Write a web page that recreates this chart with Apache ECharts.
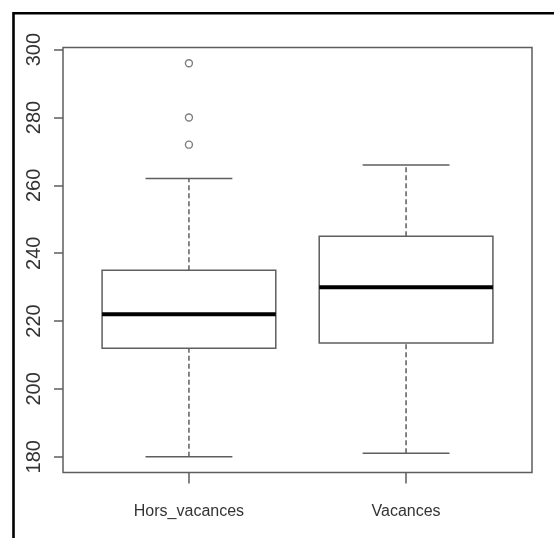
<!DOCTYPE html>
<html>
<head>
<meta charset="utf-8">
<script src="https://cdn.jsdelivr.net/npm/echarts@6/dist/echarts.min.js"></script>
<style>
html,body{margin:0;padding:0;background:#fff;}
#chart{width:554px;height:538px;}
</style>
</head>
<body>
<div id="chart"></div>
<script>
// ---- data ----
const categories = ['Hors_vacances', 'Vacances'];
const positions = [1, 2];
const whiskerLow = [180, 181];
const q1 = [212, 213.5];
const medians = [222, 230];
const q3 = [235, 245];
const whiskerHigh = [262, 266];
const outliers = [[296, 280, 272], []];
const yTicks = [180, 200, 220, 240, 260, 280, 300];

// R-style axis ranges (4% extension of data range)
const allVals = whiskerLow.concat(whiskerHigh, outliers.flat());
const dMin = Math.min.apply(null, allVals), dMax = Math.max.apply(null, allVals);
const ext = (dMax - dMin) * 0.04;
const yMin = dMin - ext, yMax = dMax + ext;
const xMin = 0.5 - 0.04 * 2, xMax = 2.5 + 0.04 * 2;

const boxData = positions.map((p, i) => [p, whiskerLow[i], q1[i], medians[i], q3[i], whiskerHigh[i]]);
const outlierData = [];
outliers.forEach((arr, i) => arr.forEach(v => outlierData.push([positions[i], v])));

const lineCol = '#5e5e5e';
const chart = echarts.init(document.getElementById('chart'));
chart.setOption({
  animation: false,
  backgroundColor: '#fff',
  grid: {
    left: 63, right: 22, top: 47.5, bottom: 65.5,
    show: true, borderColor: lineCol, borderWidth: 1.5, backgroundColor: 'transparent'
  },
  xAxis: {
    type: 'value', min: xMin, max: xMax,
    splitLine: { show: false },
    axisLine: { show: false },
    axisTick: { show: true, length: 11, customValues: positions, lineStyle: { color: lineCol, width: 1.5 } },
    axisLabel: {
      customValues: positions,
      formatter: v => categories[positions.indexOf(Math.round(v))] || '',
      margin: 31,
      fontFamily: "'Liberation Sans', Arial, sans-serif",
      fontSize: 16, color: '#333'
    }
  },
  yAxis: {
    type: 'value', min: yMin, max: yMax,
    splitLine: { show: false },
    axisLine: { show: false },
    axisTick: { show: true, length: 9, customValues: yTicks, lineStyle: { color: lineCol, width: 1.5 } },
    axisLabel: {
      customValues: yTicks, rotate: 90, margin: 19,
      fontFamily: "'Liberation Sans', Arial, sans-serif",
      fontSize: 20, color: '#333'
    }
  },
  graphic: [{
    type: 'polyline',
    shape: { points: [[13.5, 538], [13.5, 13.25], [554, 13.25]] },
    style: { stroke: '#000', lineWidth: 2.6, fill: null },
    z: 100
  }],
  series: [{
    type: 'custom',
    data: boxData,
    renderItem: function (params, api) {
      const x = api.value(0);
      const lo = api.value(1), a = api.value(2), m = api.value(3), b = api.value(4), hi = api.value(5);
      const c = (xx, yy) => api.coord([xx, yy]);
      const pLo = c(x, lo), pA = c(x, a), pB = c(x, b), pHi = c(x, hi);
      const bl = c(x - 0.4, b), br = c(x + 0.4, a);
      const mL = c(x - 0.4, m), mR = c(x + 0.4, m);
      const sLoL = c(x - 0.2, lo), sLoR = c(x + 0.2, lo);
      const sHiL = c(x - 0.2, hi), sHiR = c(x + 0.2, hi);
      const st = { stroke: lineCol, lineWidth: 1.5, fill: null };
      const dash = { stroke: lineCol, lineWidth: 1.5, lineDash: [5, 3], fill: null };
      return {
        type: 'group',
        children: [
          { type: 'line', shape: { x1: pB[0], y1: pB[1], x2: pHi[0], y2: pHi[1] }, style: dash },
          { type: 'line', shape: { x1: pLo[0], y1: pLo[1], x2: pA[0], y2: pA[1] }, style: dash },
          { type: 'line', shape: { x1: sLoL[0], y1: sLoL[1], x2: sLoR[0], y2: sLoR[1] }, style: st },
          { type: 'line', shape: { x1: sHiL[0], y1: sHiL[1], x2: sHiR[0], y2: sHiR[1] }, style: st },
          { type: 'rect', shape: { x: bl[0], y: bl[1], width: br[0] - bl[0], height: br[1] - bl[1] }, style: st },
          { type: 'line', shape: { x1: mL[0], y1: mL[1], x2: mR[0], y2: mR[1] }, style: { stroke: '#000', lineWidth: 4 } }
        ]
      };
    }
  }, {
    type: 'scatter',
    data: outlierData,
    symbol: 'circle',
    symbolSize: 7,
    itemStyle: { color: 'rgba(0,0,0,0)', borderColor: lineCol, borderWidth: 1.4 }
  }]
});
</script>
</body>
</html>
